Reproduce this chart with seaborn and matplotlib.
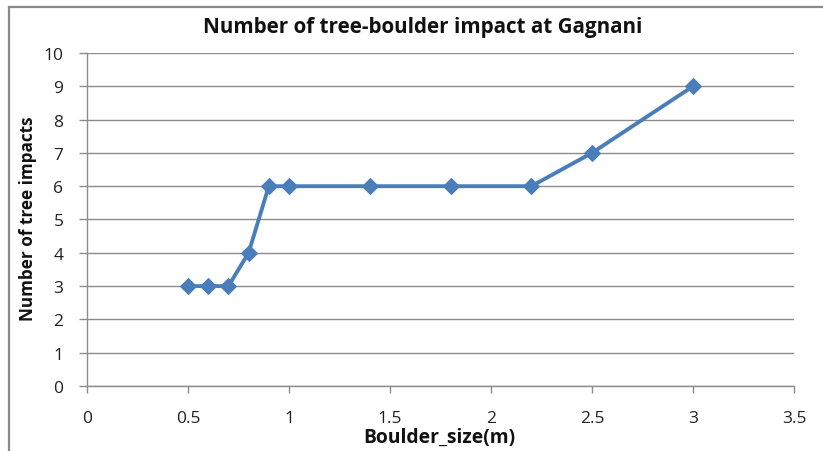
import matplotlib
matplotlib.use("Agg")
import matplotlib.pyplot as plt
import seaborn as sns
import pandas as pd
from matplotlib.patches import Rectangle

boulder_size = [0.5, 0.6, 0.7, 0.8, 0.9, 1.0, 1.4, 1.8, 2.2, 2.5, 3.0]
tree_impacts = [3, 3, 3, 4, 6, 6, 6, 6, 6, 7, 9]
x_ticks = [0, 0.5, 1, 1.5, 2, 2.5, 3, 3.5]
x_tick_labels = ["0", "0.5", "1", "1.5", "2", "2.5", "3", "3.5"]
y_ticks = list(range(0, 11))

sns.set_theme(style="white")
plt.rcParams['font.family'] = ['Open Sans', 'DejaVu Sans']

df = pd.DataFrame({"x": boulder_size, "y": tree_impacts})

fig = plt.figure(figsize=(8.23, 4.52), dpi=100)
ax = fig.add_axes([87/823, 1-387/452, (794-87)/823, (387-54)/452])

sns.lineplot(data=df, x="x", y="y", ax=ax, color="#4a7ebb", linewidth=2.8,
             marker="D", markersize=8, markeredgecolor="#4a7ebb", zorder=3)

ax.set_xlim(0, 3.5)
ax.set_ylim(0, 10)
ax.set_xticks(x_ticks)
ax.set_xticklabels(x_tick_labels)
ax.set_yticks(y_ticks)
ax.yaxis.grid(True, color="#8c8c8c", linewidth=1)
ax.xaxis.grid(False)
for s in ["top", "right"]:
    ax.spines[s].set_visible(False)
for s in ["left", "bottom"]:
    ax.spines[s].set_color("#8c8c8c")
    ax.spines[s].set_linewidth(1)
ax.tick_params(axis="x", direction="out", length=5, color="#8c8c8c", width=1,
               labelsize=12.5, pad=12, bottom=True, labelcolor="#222222")
ax.tick_params(axis="y", direction="out", length=6, color="#8c8c8c", width=1,
               labelsize=12.5, pad=11, left=True, labelcolor="#222222")
ax.set_xlabel("")
ax.set_ylabel("")

fig.text(423/823, 1-28/452, "Number of tree-boulder impact at Gagnani",
         ha="center", va="center", fontsize=14.9, fontweight="bold", color="#111111")
fig.text(439/823, 1-438/452, "Boulder_size(m)", ha="center", va="center",
         fontsize=13.9, fontweight="bold", color="#111111")
fig.text(28/823, 1-219/452, "Number of tree impacts", ha="center", va="center",
         rotation=90, fontsize=12.3, fontweight="bold", color="#111111")

fig.patches.append(Rectangle((9/823, -0.1), 1.2, 1 - 8/452 + 0.1,
                             transform=fig.transFigure, fill=False,
                             edgecolor="#8a8a8a", linewidth=1.6))

fig.savefig("out.png", dpi=100)
